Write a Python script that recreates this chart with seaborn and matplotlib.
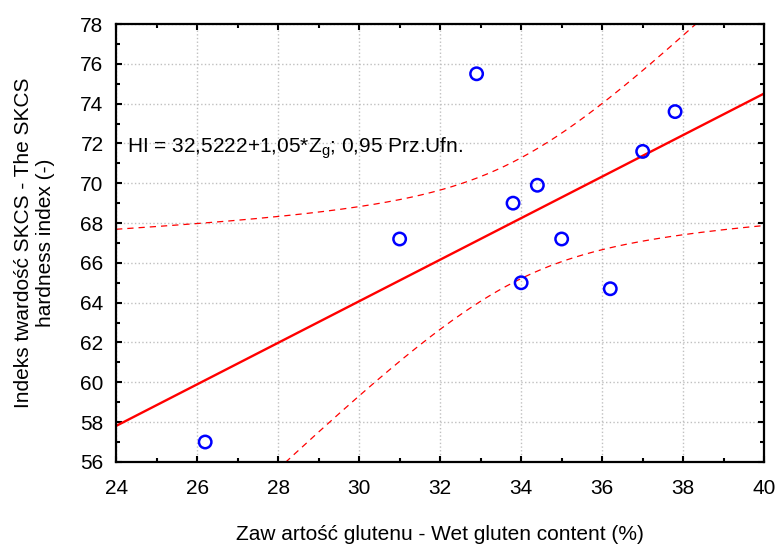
import matplotlib
matplotlib.use("Agg")
import matplotlib.pyplot as plt
from matplotlib.ticker import MultipleLocator
import numpy as np
import pandas as pd
import seaborn as sns

# data
gluten = [26.2, 31.0, 32.9, 33.8, 34.0, 34.4, 35.0, 36.2, 37.0, 37.8]
hardness = [57.0, 67.2, 75.5, 69.0, 65.0, 69.9, 67.2, 64.7, 71.6, 73.6]
x_ticks = [24, 26, 28, 30, 32, 34, 36, 38, 40]
y_ticks = [56, 58, 60, 62, 64, 66, 68, 70, 72, 74, 76, 78]
fit_label = r"HI = 32,5222+1,05*Z$_\mathregular{g}$; 0,95 Prz.Ufn."
x_title = "Zaw artość glutenu - Wet gluten content (%)"
y_title = "Indeks twardość SKCS - The SKCS\nhardness index (-)"

sns.set_style("ticks", {'text.color': 'black', 'axes.labelcolor': 'black',
                        'xtick.color': 'black', 'ytick.color': 'black'})
plt.rcParams['font.family'] = ['Liberation Sans', 'DejaVu Sans']
plt.rcParams['mathtext.fontset'] = 'custom'
plt.rcParams['mathtext.rm'] = 'Liberation Sans'

df = pd.DataFrame({'x': gluten, 'y': hardness})

# linear fit and 95% confidence band of the mean
x = np.asarray(gluten)
y = np.asarray(hardness)
n = len(x)
slope, intercept = np.polyfit(x, y, 1)
resid = y - (intercept + slope * x)
s = np.sqrt(np.sum(resid ** 2) / (n - 2))
sxx = np.sum((x - x.mean()) ** 2)
t_val = 2.306  # t(0.975, df=8)
xs = np.linspace(x_ticks[0], x_ticks[-1], 300)
ys = intercept + slope * xs
half = t_val * s * np.sqrt(1 / n + (xs - x.mean()) ** 2 / sxx)
band = pd.DataFrame({'x': xs, 'fit': ys, 'lo': ys - half, 'hi': ys + half})

fig = plt.figure(figsize=(7.79, 5.46), dpi=100)
ax = fig.add_axes([0.149, 0.154, 0.832, 0.802])

sns.lineplot(x='x', y='fit', data=band, color='#ff0000', linewidth=1.7, ax=ax)
for col in ['lo', 'hi']:
    sns.lineplot(x='x', y=col, data=band, color='#ff0000', linewidth=0.9, ax=ax)
    ax.lines[-1].set_linestyle((0, (5, 4)))
sns.scatterplot(x='x', y='y', data=df, marker='o', s=80, facecolors='none',
                edgecolor='#0000ff', linewidth=1.8, ax=ax, zorder=5)

ax.set_xlim(x_ticks[0], x_ticks[-1])
ax.set_ylim(y_ticks[0], y_ticks[-1])
ax.set_xticks(x_ticks)
ax.set_yticks(y_ticks)
ax.xaxis.set_minor_locator(MultipleLocator(1))
ax.yaxis.set_minor_locator(MultipleLocator(1))
ax.tick_params(which='both', direction='in', top=True, right=True,
               labelsize=15, width=1.5, color='black', labelcolor='black')
ax.tick_params(axis='x', which='major', length=4, pad=12)
ax.tick_params(axis='y', which='major', length=4, pad=9)
ax.tick_params(which='minor', length=3)
ax.grid(True, which='major', linestyle=':', color='#c0c0c0', linewidth=1)

for spine in ax.spines.values():
    spine.set_visible(True)
    spine.set_color('black')
    spine.set_linewidth(1.6)

ax.set_xlabel(x_title, fontsize=15, labelpad=20, color='black')
ax.set_ylabel(y_title, fontsize=15, labelpad=18, color='black')
ax.text(24.27, 71.75, fit_label, fontsize=15, va='center', ha='left', color='black')

fig.savefig("out.png", dpi=100)
